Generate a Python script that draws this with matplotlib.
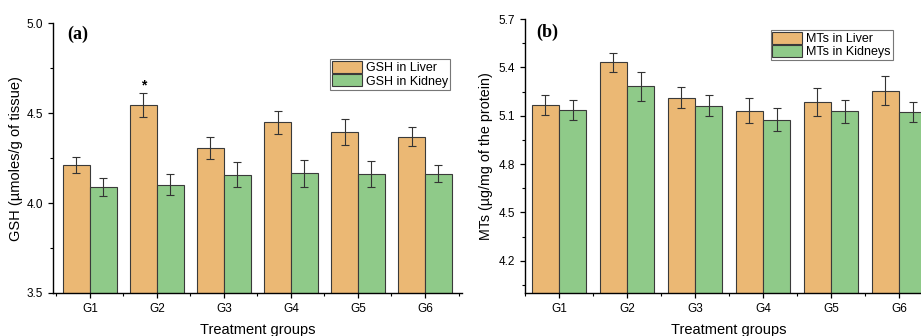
import numpy as np
import matplotlib.pyplot as plt
from matplotlib.ticker import MultipleLocator

# ===================== data =====================
groups = ["G1", "G2", "G3", "G4", "G5", "G6"]

gsh_liver = [4.21, 4.545, 4.305, 4.45, 4.395, 4.37]
gsh_liver_err = [0.045, 0.065, 0.062, 0.064, 0.073, 0.054]
gsh_kidney = [4.09, 4.103, 4.157, 4.167, 4.16, 4.163]
gsh_kidney_err = [0.048, 0.056, 0.07, 0.075, 0.072, 0.046]

mts_liver = [5.168, 5.431, 5.212, 5.131, 5.185, 5.257]
mts_liver_err = [0.06, 0.06, 0.066, 0.077, 0.089, 0.091]
mts_kidney = [5.133, 5.282, 5.162, 5.077, 5.127, 5.122]
mts_kidney_err = [0.062, 0.089, 0.066, 0.071, 0.073, 0.062]

# ===================== style =====================
plt.rcParams.update({
    "font.family": ["Liberation Sans", "DejaVu Sans"],
    "font.size": 8.5,
    "axes.linewidth": 1.0,
    "xtick.labelsize": 8.5,
    "ytick.labelsize": 8.5,
})

c_liver = "#EBB874"
c_kidney = "#8FCA89"
c_edge = "#3a3a3a"
bw = 0.4

fig = plt.figure(figsize=(9.21, 3.36), dpi=100)
ax_a = fig.add_axes([0.0575, 0.128, 0.444, 0.803])
ax_b = fig.add_axes([0.570, 0.128, 0.443, 0.815])

x = np.arange(1, len(groups) + 1)


def draw_panel(ax, liver, liver_err, kidney, kidney_err, labels):
    ax.bar(x - bw / 2, liver, bw, yerr=liver_err, color=c_liver, edgecolor=c_edge,
           linewidth=0.8, label=labels[0],
           error_kw=dict(ecolor="#333333", elinewidth=0.8, capsize=3, capthick=0.8))
    ax.bar(x + bw / 2, kidney, bw, yerr=kidney_err, color=c_kidney, edgecolor=c_edge,
           linewidth=0.8, label=labels[1],
           error_kw=dict(ecolor="#333333", elinewidth=0.8, capsize=3, capthick=0.8))
    ax.set_xticks(x)
    ax.set_xticklabels(groups)
    ax.xaxis.set_minor_locator(MultipleLocator(0.5))
    for s in ["top", "right"]:
        ax.spines[s].set_visible(False)
    ax.tick_params(which="major", direction="out", length=3.5, width=0.9)
    ax.tick_params(which="minor", direction="out", length=2, width=0.8)
    ax.set_xlabel("Treatment groups", fontsize=10.5, labelpad=6)
    leg = ax.legend(loc="upper right", fontsize=9, frameon=True, fancybox=False,
                    edgecolor="#555555", handlelength=2.4, handleheight=1.1,
                    borderpad=0.15, labelspacing=0.0, handletextpad=0.3,
                    borderaxespad=0.3)
    leg.get_frame().set_linewidth(0.8)


# ---- panel (a) ----
draw_panel(ax_a, gsh_liver, gsh_liver_err, gsh_kidney, gsh_kidney_err,
           ["GSH in Liver", "GSH in Kidney"])
ax_a.set_xlim(0.45, 6.55)
ax_a.set_ylim(3.5, 5.0)
ax_a.yaxis.set_major_locator(MultipleLocator(0.5))
ax_a.yaxis.set_minor_locator(MultipleLocator(0.25))
ax_a.set_ylabel("GSH (µmoles/g of tissue)", fontsize=10.5, labelpad=3)
ax_a.legend_.set_bbox_to_anchor((0.98, 0.88))
ax_a.text(0.035, 0.99, "(a)", transform=ax_a.transAxes, fontsize=13,
          fontweight="bold", family="Liberation Serif", va="top")
ax_a.annotate("*", (x[1] - bw / 2, gsh_liver[1] + gsh_liver_err[1]),
              xytext=(0, 3), textcoords="offset points", ha="center",
              fontsize=10, fontweight="bold")

# ---- panel (b) ----
draw_panel(ax_b, mts_liver, mts_liver_err, mts_kidney, mts_kidney_err,
           ["MTs in Liver", "MTs in Kidneys"])
ax_b.set_xlim(0.5, 6.5)
ax_b.set_ylim(4.0, 5.7)
ax_b.set_yticks([4.2, 4.5, 4.8, 5.1, 5.4, 5.7])
ax_b.yaxis.set_minor_locator(MultipleLocator(0.15))
ax_b.set_ylabel("MTs (µg/mg of the protein)", fontsize=10.3, labelpad=4)
ax_b.legend_.set_bbox_to_anchor((0.91, 0.975))
ax_b.text(0.028, 0.985, "(b)", transform=ax_b.transAxes, fontsize=13,
          fontweight="bold", family="Liberation Serif", va="top")

fig.savefig("out.png", dpi=100)
